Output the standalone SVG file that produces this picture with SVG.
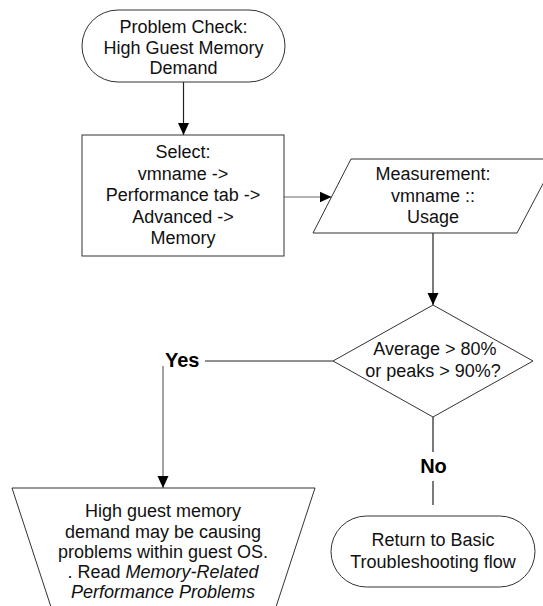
<svg xmlns="http://www.w3.org/2000/svg" width="543" height="606" viewBox="0 0 543 606">
  <defs>
    <marker id="arrow" markerUnits="userSpaceOnUse" markerWidth="12" markerHeight="12" viewBox="0 0 12 12" refX="12" refY="6" orient="auto">
      <path d="M0,0.5 L12,6 L0,11.5 Z" fill="#000"/>
    </marker>
    <style>
      .shape { fill: #fff; stroke: #333; stroke-width: 1; }
      .edge { fill: none; stroke: #222; stroke-width: 1.2; }
      .edge.gray { stroke: #666; }
      .lbl { font-family: "Liberation Sans", Arial, sans-serif; font-size: 18px; fill: #111; text-anchor: middle; }
      .tag { font-family: "Liberation Sans", Arial, sans-serif; font-size: 20px; font-weight: bold; fill: #000; }
    </style>
  </defs>

  <!-- connectors -->
  <g id="connectors">
    <path class="edge" d="M183.5,82 V135" marker-end="url(#arrow)"/>
    <path class="edge gray" d="M284,197 H331.5" marker-end="url(#arrow)"/>
    <path class="edge" d="M433,233 V305" marker-end="url(#arrow)"/>
    <path class="edge" d="M333,361 H205"/>
    <path class="edge gray" d="M163,366 V488" marker-end="url(#arrow)"/>
    <path class="edge" d="M433,417 V452"/>
    <path class="edge" d="M433,481 V505"/>
    <text class="tag" x="165" y="367">Yes</text>
    <text class="tag" x="433.5" y="473" text-anchor="middle">No</text>
  </g>

  <!-- start terminal -->
  <g id="start">
    <rect class="shape" x="82" y="10" width="203" height="72" rx="36" ry="36"/>
    <text class="lbl" x="183.5" y="33">Problem Check:</text>
    <text class="lbl" x="183.5" y="53.5">High Guest Memory</text>
    <text class="lbl" x="183.5" y="74">Demand</text>
  </g>

  <!-- navigation step -->
  <g id="select">
    <rect class="shape" x="82" y="135" width="202" height="121"/>
    <text class="lbl" x="183" y="158">Select:</text>
    <text class="lbl" x="183" y="179.5">vmname -&gt;</text>
    <text class="lbl" x="183" y="201">Performance tab -&gt;</text>
    <text class="lbl" x="183" y="222.5">Advanced -&gt;</text>
    <text class="lbl" x="183" y="244">Memory</text>
  </g>

  <!-- measurement input -->
  <g id="measurement">
    <polygon class="shape" points="351,159 556,159 517,233 313,233"/>
    <text class="lbl" x="433" y="180">Measurement:</text>
    <text class="lbl" x="433" y="202">vmname ::</text>
    <text class="lbl" x="433" y="223">Usage</text>
  </g>

  <!-- threshold decision -->
  <g id="decision">
    <polygon class="shape" points="433,305 533,361 433,417 333,361"/>
    <text class="lbl" x="435" y="355">Average &gt; 80%</text>
    <text class="lbl" x="433" y="377">or peaks &gt; 90%?</text>
  </g>

  <!-- outcome when threshold exceeded -->
  <g id="guest-problem">
    <polygon class="shape" points="12,488 315,488 275,610 52,610"/>
    <text class="lbl" x="163" y="517">High guest memory</text>
    <text class="lbl" x="163" y="538">demand may be causing</text>
    <text class="lbl" x="163" y="558">problems within guest OS.</text>
    <text class="lbl" x="163" y="578">. Read <tspan font-style="italic">Memory-Related</tspan></text>
    <text class="lbl" x="163" y="598" font-style="italic">Performance Problems</text>
  </g>

  <!-- return terminal -->
  <g id="return">
    <rect class="shape" x="331" y="516" width="204" height="71" rx="35.5" ry="35.5"/>
    <text class="lbl" x="433" y="546">Return to Basic</text>
    <text class="lbl" x="433" y="568">Troubleshooting flow</text>
  </g>
</svg>
